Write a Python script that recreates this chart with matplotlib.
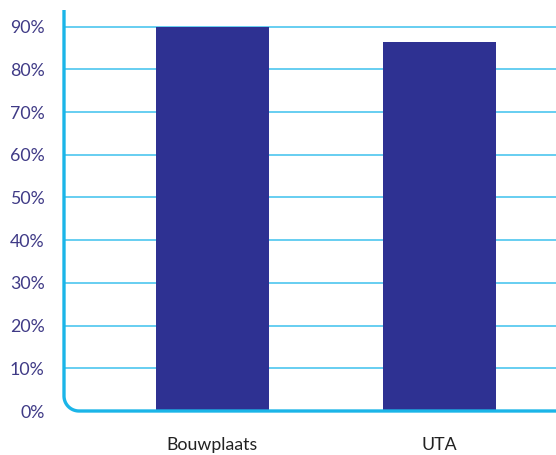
import matplotlib
matplotlib.use("Agg")
import matplotlib.pyplot as plt
import numpy as np
from matplotlib.path import Path
from matplotlib.patches import PathPatch
from matplotlib.ticker import PercentFormatter

categories = ["Bouwplaats", "UTA"]
values = [0.90, 0.864]
yticks = [0.0, 0.1, 0.2, 0.3, 0.4, 0.5, 0.6, 0.7, 0.8, 0.9]

plt.rcParams['font.family'] = ['Lato', 'DejaVu Sans']

W, H = 556, 455
fig = plt.figure(figsize=(W / 100, H / 100), dpi=100)
left_px, right_px, bottom_px, top_px = 64, 556, 411, 10
ax = fig.add_axes([left_px / W, 1 - bottom_px / H, (right_px - left_px) / W, (bottom_px - top_px) / H])

x = np.arange(len(categories))
ax.bar(x, values, width=0.5, color="#2E3192", zorder=3)
ax.set_xlim(-0.654, 1.513)
ax.set_ylim(0, 0.939)
ax.set_yticks(yticks)
ax.yaxis.set_major_formatter(PercentFormatter(1.0, decimals=0))
ax.set_xticks(x)
ax.set_xticklabels(categories)
ax.tick_params(axis='y', length=0, pad=14, labelsize=12.8, labelcolor="#3F3A86")
ax.tick_params(axis='x', length=0, pad=19, labelsize=12.8, labelcolor="#222222")
ax.get_yticklabels()[0].set_y(0)
for yt in yticks[1:]:
    ax.axhline(yt, color="#66CEF1", lw=1.4, zorder=1)
for s in ax.spines.values():
    s.set_visible(False)

# axis line with rounded corner (in pixel coords)
r = 15
theta = np.linspace(np.pi, 1.5 * np.pi, 20)
cx, cy = left_px + r, bottom_px - r
arc_x = cx + r * np.cos(theta)
arc_y = cy - r * np.sin(theta)
xs = np.concatenate([[left_px], arc_x, [right_px]])
ys = np.concatenate([[top_px], arc_y, [bottom_px]])
verts = np.column_stack([xs, H - ys])
path = Path(verts)
patch = PathPatch(path, fill=False, edgecolor="#1BB5E8", lw=2.4, zorder=5)
patch.set_transform(matplotlib.transforms.IdentityTransform())
fig.patches.append(patch)

fig.savefig("out.png", dpi=100)
